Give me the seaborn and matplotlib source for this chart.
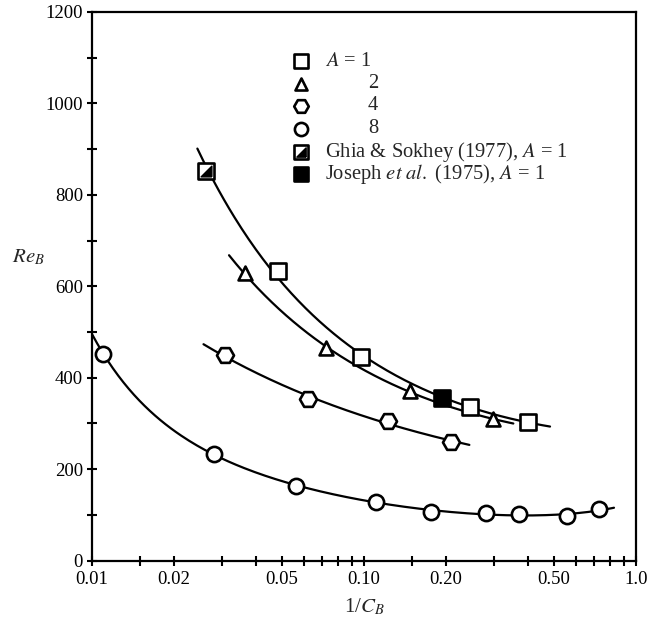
import numpy as np
import matplotlib
matplotlib.use("Agg")
import matplotlib.pyplot as plt
import seaborn as sns
from matplotlib.ticker import FixedLocator, NullFormatter, FixedFormatter

sns.set_theme(style="ticks")
plt.rcParams["font.family"] = ["Liberation Serif", "DejaVu Serif"]
plt.rcParams["mathtext.fontset"] = "stix"

# --- measured data -------------------------------------------------------
# A = 1 (present study)
a1_x = [0.0484, 0.0975, 0.246, 0.40]
a1_y = [634, 446, 335, 304]
# A = 2
a2_x = [0.0365, 0.0723, 0.148, 0.298]
a2_y = [628, 465, 371, 309]
# A = 4
a4_x = [0.0308, 0.0623, 0.123, 0.208]
a4_y = [449, 353, 306, 260]
# A = 8
a8_x = [0.0110, 0.0281, 0.0562, 0.111, 0.177, 0.281, 0.372, 0.559, 0.733]
a8_y = [452, 233, 163, 129, 107, 103, 101, 97, 112]
# earlier results for A = 1
ghia_x = [0.0262]
ghia_y = [853]
joseph_x = [0.193]
joseph_y = [355]

# ranges over which each fitted curve is drawn
curve_ranges = {
    "A1": (0.0244, 0.483),
    "A2": (0.0319, 0.354),
    "A4": (0.0257, 0.244),
    "A8": (0.0100, 0.83),
}

x_ticks = [0.01, 0.015, 0.02, 0.03, 0.04, 0.05, 0.06, 0.07, 0.08, 0.09, 0.10,
           0.15, 0.20, 0.30, 0.40, 0.50, 0.60, 0.70, 0.80, 0.90, 1.0]
x_labels = {0.01: "0.01", 0.02: "0.02", 0.05: "0.05", 0.10: "0.10",
            0.20: "0.20", 0.50: "0.50", 1.0: "1.0"}
y_ticks = list(range(0, 1201, 100))
y_labels = {v: str(v) for v in range(0, 1201, 200)}


def fitted_curve(xs, ys, lo, hi, deg):
    lx = np.log10(xs)
    coef = np.polyfit(lx, np.log(ys), deg)
    gx = np.linspace(np.log10(lo), np.log10(hi), 200)
    return 10 ** gx, np.exp(np.polyval(coef, gx))


fig = plt.figure(figsize=(6.61, 6.29), dpi=100)
ax = fig.add_axes([92 / 661, 1 - 560.5 / 629, 544 / 661, 548.5 / 629])

lw = 1.6
curves = [
    (a1_x + ghia_x + joseph_x, a1_y + ghia_y + joseph_y, "A1", 2),
    (a2_x, a2_y, "A2", 2),
    (a4_x, a4_y, "A4", 2),
    (a8_x, a8_y, "A8", 4),
]
for xs, ys, key, deg in curves:
    cx, cy = fitted_curve(np.array(xs), np.array(ys), *curve_ranges[key], deg)
    sns.lineplot(x=cx, y=cy, ax=ax, color="black", lw=lw, sort=False,
                 estimator=None, zorder=2)

mk = dict(color="white", edgecolor="black", linewidth=1.9, zorder=3)
sns.scatterplot(x=a1_x, y=a1_y, marker="s", s=120, ax=ax, **mk)
sns.scatterplot(x=a2_x, y=a2_y, marker="^", s=100, ax=ax, **mk)
sns.scatterplot(x=a4_x, y=a4_y, marker="H", s=150, ax=ax, **mk)
sns.scatterplot(x=a8_x, y=a8_y, marker="o", s=120, ax=ax, **mk)

# half-filled square: outline plus a filled lower-right triangle
tri = [(1, -1), (1, 1), (-1, -1), (1, -1)]
sns.scatterplot(x=ghia_x, y=ghia_y, marker="s", s=120, ax=ax, **mk)
ax.scatter(ghia_x, ghia_y, marker=tri, s=60, color="black", zorder=4)
sns.scatterplot(x=joseph_x, y=joseph_y, marker="s", s=120, ax=ax,
                color="black", edgecolor="black", linewidth=1.9, zorder=3)

ax.set_xscale("log")
ax.set_xlim(0.01, 1.0)
ax.set_ylim(0, 1200)
ax.xaxis.set_major_locator(FixedLocator(x_ticks))
ax.xaxis.set_major_formatter(FixedFormatter([x_labels.get(t, "") for t in x_ticks]))
ax.xaxis.set_minor_locator(FixedLocator([]))
ax.xaxis.set_minor_formatter(NullFormatter())
ax.yaxis.set_major_locator(FixedLocator(y_ticks))
ax.yaxis.set_major_formatter(FixedFormatter([y_labels.get(t, "") for t in y_ticks]))
ax.tick_params(direction="inout", length=7, width=1.5, labelsize=13.5,
               colors="black", pad=4)
ax.tick_params(axis="y", pad=3)
for sp in ax.spines.values():
    sp.set_linewidth(1.6)
    sp.set_color("black")

ax.set_xlabel("1/$C_B$", fontsize=15, labelpad=6)
ax.set_ylabel("$Re_B$", fontsize=15, rotation=0, labelpad=0)
ax.yaxis.label.set_verticalalignment("center")
ax.yaxis.set_label_coords(-0.116, 0.553)

# key in the upper part of the frame
kx, tx = 0.384, 0.429
rows = [0.910, 0.869, 0.829, 0.787, 0.745, 0.704]
T = ax.transAxes
lk = dict(transform=T, s=90, edgecolors="black", linewidths=1.9, clip_on=False, zorder=5)
ax.scatter([kx], [rows[0]], marker="s", facecolors="white", **lk)
ax.scatter([kx], [rows[1]], marker="^", facecolors="white", s=75, transform=T,
           edgecolors="black", linewidths=1.9, zorder=5)
ax.scatter([kx], [rows[2]], marker="H", facecolors="white", s=110, transform=T,
           edgecolors="black", linewidths=1.9, zorder=5)
ax.scatter([kx], [rows[3]], marker="o", facecolors="white", **lk)
ax.scatter([kx], [rows[4]], marker="s", facecolors="white", **lk)
ax.scatter([kx], [rows[4]], marker=tri, s=45, color="black", transform=T, zorder=6)
ax.scatter([kx], [rows[5]], marker="s", facecolors="black", **lk)

fs = 14.8
ax.text(tx, rows[0], "$A$ = 1", transform=T, fontsize=fs, va="center")
for r, lab in zip(rows[1:4], ["2", "4", "8"]):
    ax.text(0.5165, r, lab, transform=T, fontsize=fs, va="center", ha="center")
ax.text(tx, rows[4], "Ghia & Sokhey (1977), $A$ = 1", transform=T,
        fontsize=fs, va="center")
ax.text(tx, rows[5], "Joseph $et\\ al.$ (1975), $A$ = 1", transform=T,
        fontsize=fs, va="center")

fig.savefig("out.png", dpi=100, facecolor="white")
